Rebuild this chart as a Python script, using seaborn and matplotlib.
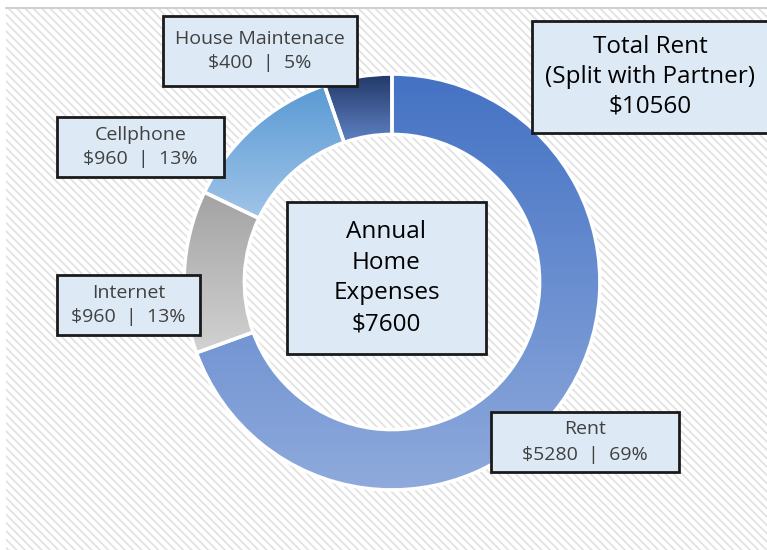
import numpy as np
import matplotlib.pyplot as plt
import seaborn as sns
from matplotlib.patches import Rectangle
from matplotlib.colors import LinearSegmentedColormap

# Data
categories = ["Rent", "Internet", "Cellphone", "House Maintenace"]
amounts = [5280, 960, 960, 400]
total_rent = 10560
total = sum(amounts)

# gradient colours (top -> bottom) per slice
top_colors = ["#4472C4", "#A3A3A3", "#5A9AD4", "#213766"]
bottom_colors = ["#8FAADC", "#D2D2D2", "#A0C4E8", "#5F82C4"]

sns.set_theme(style="white")
plt.rcParams["font.family"] = ["Open Sans", "DejaVu Sans"]
plt.rcParams["hatch.linewidth"] = 1.3

W, H = 767, 550
fig = plt.figure(figsize=(W / 100, H / 100), dpi=100)
fig.patch.set_facecolor("white")

# hatched background
bg = fig.add_axes([0, 0, 1, 1], zorder=0)
bg.set_xlim(0, W)
bg.set_ylim(H, 0)
bg.axis("off")
bg.add_patch(Rectangle((6, 8), W - 6, H - 8, facecolor="white",
                       edgecolor="#e2e2e2", hatch="\\\\\\\\", lw=0))
bg.plot([6, W], [7.5, 7.5], color="#d0d0d0", lw=1.5)

# donut
cx, cy, r = 392, 282, 210
ax = fig.add_axes([(cx - r) / W, (H - cy - r) / H, 2 * r / W, 2 * r / H], zorder=1)
ax.patch.set_alpha(0)
wedges, _ = ax.pie(amounts, startangle=90, counterclock=False, radius=1,
                   wedgeprops=dict(width=0.29, edgecolor="white", linewidth=2.5))
grad = np.linspace(0, 1, 256).reshape(-1, 1)
for w, c0, c1 in zip(wedges, top_colors, bottom_colors):
    ext = w.get_path().get_extents()
    cmap = LinearSegmentedColormap.from_list("g", [c0, c1])
    im = ax.imshow(grad, extent=[ext.x0, ext.x1, ext.y0, ext.y1], origin="upper",
                   aspect="auto", cmap=cmap, zorder=1)
    im.set_clip_path(w)
    w.set_facecolor("none")
    w.set_zorder(2)
ax.set_xlim(-1.01, 1.01)
ax.set_ylim(-1.01, 1.01)
ax.set_aspect("equal")
ax.axis("off")

# text boxes
ov = fig.add_axes([0, 0, 1, 1], zorder=2)
ov.patch.set_alpha(0)
ov.set_xlim(0, W)
ov.set_ylim(H, 0)
ov.axis("off")


def box(x0, y0, x1, y1, text, size, color, ls):
    ov.add_patch(Rectangle((x0, y0), x1 - x0, y1 - y0, facecolor="#DDEAF6",
                           edgecolor="#1a1a1a", lw=2))
    ov.text((x0 + x1) / 2, (y0 + y1) / 2, text, ha="center", va="center",
            fontsize=size, color=color, linespacing=ls)


labels = [f"{c}\n${a}  |  {round(a / total * 100)}%" for c, a in zip(categories, amounts)]
box(491, 412, 679, 472, labels[0], 14, "#404040", 1.5)
box(57, 275, 200, 335, labels[1], 14, "#404040", 1.5)
box(57, 117, 224, 177, labels[2], 14, "#404040", 1.5)
box(163, 16, 357, 86, labels[3], 14, "#404040", 1.5)
box(532, 21, 768, 133, f"Total Rent\n(Split with Partner)\n${total_rent}", 17.5, "black", 1.33)
box(287, 202, 486, 354, f"Annual\nHome\nExpenses\n${total}", 17.5, "black", 1.38)

fig.savefig("out.png", dpi=100)
